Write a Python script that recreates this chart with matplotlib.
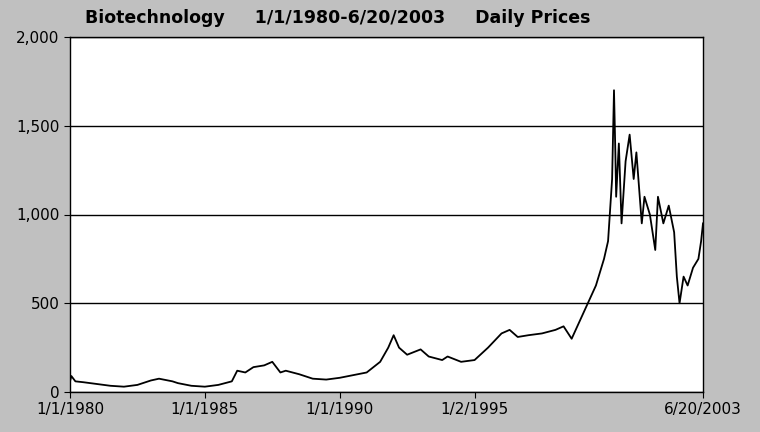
import matplotlib
matplotlib.use("Agg")
import matplotlib.pyplot as plt

years = [1980.0,1980.05,1980.2,1980.5,1981,1981.5,1982,1982.5,1983,1983.3,1983.8,1984,1984.5,1985,1985.5,1986,1986.2,1986.5,1986.8,1987.2,1987.5,1987.8,1988,1988.5,1989,1989.5,1990,1990.5,1991,1991.5,1991.8,1992.0,1992.2,1992.5,1993,1993.3,1993.8,1994,1994.5,1995,1995.5,1996,1996.3,1996.6,1997,1997.5,1998,1998.3,1998.6,1998.9,1999.2,1999.5,1999.8,1999.95,2000.1,2000.17,2000.22,2000.25,2000.35,2000.45,2000.6,2000.75,2000.9,2001.0,2001.2,2001.3,2001.5,2001.7,2001.8,2002.0,2002.2,2002.4,2002.5,2002.6,2002.75,2002.9,2003.1,2003.3,2003.4,2003.47]
prices = [60,90,60,55,45,35,30,40,65,75,60,50,35,30,40,60,120,110,140,150,170,110,120,100,75,70,80,95,110,170,250,320,250,210,240,200,180,200,170,180,250,330,350,310,320,330,350,370,300,400,500,600,750,850,1200,1700,1350,1100,1400,950,1300,1450,1200,1350,950,1100,1000,800,1100,950,1050,900,650,500,650,600,700,750,850,950]
xtick_pos = [1980.0, 1985.0, 1990.0, 1995.0, 2003.47]
xtick_labels = ["1/1/1980", "1/1/1985", "1/1/1990", "1/2/1995", "6/20/2003"]
ytick_pos = [0, 500, 1000, 1500, 2000]
ytick_labels = ["0", "500", "1,000", "1,500", "2,000"]

fig = plt.figure(figsize=(7.6, 4.32), dpi=100, facecolor="#c0c0c0")
ax = fig.add_axes([70/760, 1-392/432, 633/760, 355/432])
ax.set_facecolor("white")
ax.plot(years, prices, color="black", lw=1.3)
ax.set_xlim(1980.0, 2003.47)
ax.set_ylim(0, 2000)
ax.set_xticks(xtick_pos, xtick_labels, fontsize=11)
ax.set_yticks(ytick_pos, ytick_labels, fontsize=11)
ax.yaxis.grid(True, color="black", lw=1)
ax.tick_params(length=4)
for s in ax.spines.values():
    s.set_linewidth(1)
fig.text(85/760, 1-18/432, "Biotechnology     1/1/1980-6/20/2003     Daily Prices",
         fontsize=12.5, fontweight="bold", va="center", ha="left")
fig.savefig("out.png", dpi=100, facecolor=fig.get_facecolor())
